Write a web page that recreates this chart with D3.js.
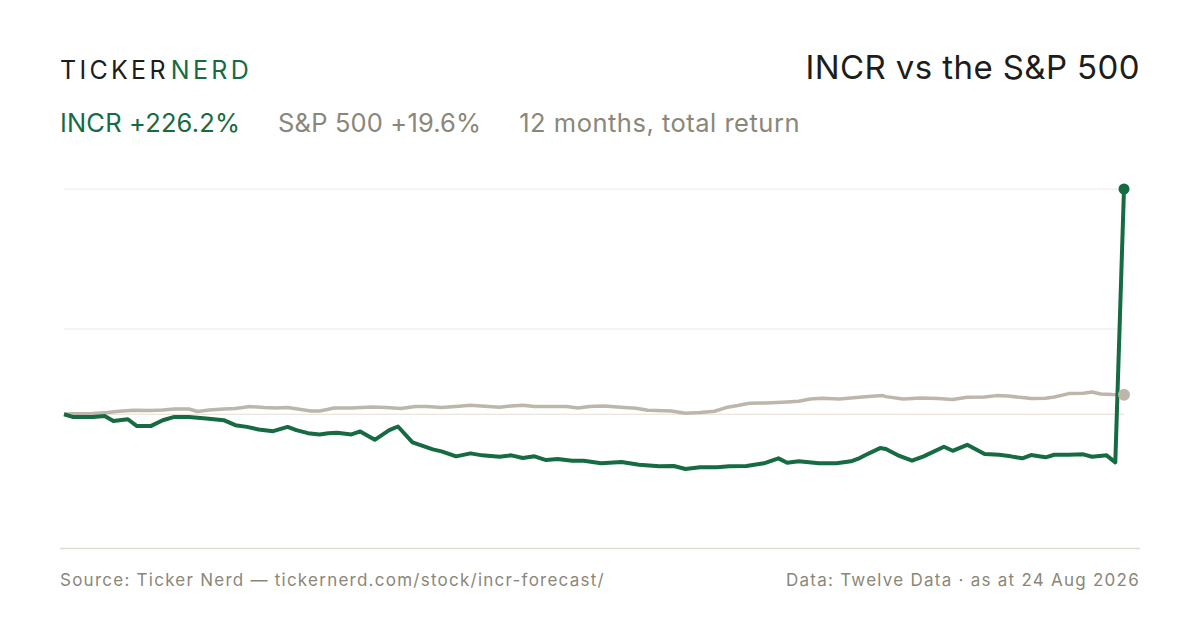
<!DOCTYPE html>
<html>
<head>
<meta charset="utf-8">
<script src="https://cdn.jsdelivr.net/npm/d3@7"></script>
<style>
    html, body { margin: 0; padding: 0; background: #ffffff; }
    svg { display: block; font-family: Inter, "Noto Sans", sans-serif; }
</style>
</head>
<body>
<svg id="chart" width="1200" height="630"></svg>
<script>
// Day offsets (from start of the 12 month window) and total return in %
const incrDays = [0, 3, 10, 14, 17, 22, 25, 30, 34, 38, 43, 49, 55, 59, 63, 67, 72, 77, 80, 84, 88, 91,
    94, 99, 102, 107, 112, 115, 120, 127, 130, 135, 140, 144, 150, 154, 158, 162, 166, 170, 175, 179, 182,
    185, 192, 198, 205, 210, 214, 219, 225, 229, 235, 241, 246, 249, 253, 260, 266, 271, 274, 276, 281, 283,
    287, 292, 296, 303, 306, 311, 317, 322, 326, 330, 333, 338, 341, 346, 351, 354, 359, 362, 365];
const incrReturn = [0, -2.7, -2.7, -1.7, -6.7, -5, -11.7, -11.7, -6, -2.7, -2.7, -4.3, -6, -11, -12.7, -15.3, -17, -12.7, -16, -19, -20.3, -19,
    -18.7, -20.3, -17.3, -25.7, -16, -12.3, -28.3, -35.3, -37.3, -42.3, -39.3, -41.3, -42.7, -41.3, -44, -42.3, -46, -45, -46.7, -46.7, -48,
    -49.3, -48, -50.7, -52.3, -52, -55, -53.3, -53.3, -52.3, -52, -49.3, -44.3, -48.7, -47.3, -49.3, -49.3, -47.3, -44, -41, -34, -35,
    -41, -46.7, -42.3, -32.7, -36.7, -30.7, -40, -40.7, -42.3, -44.3, -41, -43.3, -40.7, -40.7, -40.3, -42.7, -41.3, -48.3, 226.2];

const spxDays = [0, 3, 10, 15, 19, 24, 30, 34, 38, 43, 46, 50, 55, 59, 64, 69, 73, 77, 81, 85, 88, 91,
    93, 99, 106, 111, 116, 121, 125, 130, 136, 140, 145, 150, 154, 158, 162, 168, 173, 177, 181, 183,
    186, 193, 197, 201, 209, 214, 219, 224, 228, 232, 236, 242, 249, 253, 257, 261, 267, 274, 277, 282,
    283, 289, 295, 301, 306, 311, 317, 321, 325, 330, 333, 338, 341, 346, 351, 354, 357, 361, 365];
const spxReturn = [0, 0.5, 0.7, 1.7, 3, 4, 3.7, 4.3, 5.3, 5.3, 2.7, 4.3, 5.3, 5.7, 7.7, 6.7, 6.3, 6.7, 5, 3.3, 3.3, 5,
    6.3, 6.3, 7.3, 6.7, 5.7, 7.7, 7.7, 6.7, 8, 9, 8, 7, 8.3, 9, 7.7, 7.7, 7.7, 6.3, 7.7, 8,
    8.3, 6.7, 6, 4, 3.3, 1, 1.7, 3, 6.7, 8.7, 11, 11.3, 12.3, 13, 15.3, 16, 15.3, 17, 17.7, 18.7,
    17.7, 15.3, 16.3, 15.7, 14.7, 17, 17.3, 18.7, 18.3, 16.7, 15.7, 16, 17.3, 20.7, 21, 22.3, 20.3, 19.7, 19.6];

const windowDays = 365;
const incrLabel = "INCR +226.2%";
const spxLabel = "S&P 500 +19.6%";
const periodLabel = "12 months, total return";
const titleText = "INCR vs the S&P 500";
const sourceText = "Source: Ticker Nerd \u2014 tickernerd.com/stock/incr-forecast/";
const dataText = "Data: Twelve Data \u00b7 as at 24 Aug 2026";

const green = "#176b43",
    grey = "#bdb6ab",
    muted = "#8b8778";

const svg = d3.select("#chart");

const incr = incrDays.map((d, i) => ({day: d, value: incrReturn[i]}));
const spx = spxDays.map((d, i) => ({day: d, value: spxReturn[i]}));

const x = d3.scaleLinear()
    .domain([0, windowDays])
    .range([64, 1124]);

const yExtent = d3.extent(incrReturn.concat(spxReturn));
const y = d3.scaleLinear()
    .domain(yExtent)
    .range([469, 189]);

// Header
const logo = svg.append("text")
    .attr("x", 60)
    .attr("y", 79)
    .attr("font-size", 25)
    .attr("letter-spacing", 3.3)
    .attr("fill", "#1d1d1b");
logo.append("tspan").text("TICKER");
logo.append("tspan").attr("dx", 2).attr("fill", green).text("NERD");

svg.append("text")
    .attr("x", 1140)
    .attr("y", 79)
    .attr("text-anchor", "end")
    .attr("font-size", 33)
    .attr("letter-spacing", 0.4)
    .attr("fill", "#1d1d1b")
    .text(titleText);

const sub = svg.append("text")
    .attr("x", 60)
    .attr("y", 132)
    .attr("font-size", 25.5)
    .attr("letter-spacing", 0.15)
    .attr("fill", muted);
sub.append("tspan").attr("fill", green).text(incrLabel);
sub.append("tspan").attr("dx", 38).text(spxLabel);
sub.append("tspan").attr("dx", 38).attr("letter-spacing", 0.5).text(periodLabel);

// Grid
const gridValues = [yExtent[1], (yExtent[0] + yExtent[1]) / 2];
svg.append("g")
    .selectAll("line")
    .data(gridValues)
    .join("line")
    .attr("x1", x(0))
    .attr("x2", x(windowDays))
    .attr("y1", d => y(d))
    .attr("y2", d => y(d))
    .attr("stroke", "#ebe8e1")
    .attr("stroke-width", 1);

svg.append("line")
    .attr("x1", x(0))
    .attr("x2", x(windowDays))
    .attr("y1", y(0))
    .attr("y2", y(0))
    .attr("stroke", "#e4ddd3")
    .attr("stroke-width", 1.2);

// Lines
const line = d3.line()
    .x(d => x(d.day))
    .y(d => y(d.value));

svg.append("path")
    .datum(spx)
    .attr("d", line)
    .attr("fill", "none")
    .attr("stroke", grey)
    .attr("stroke-width", 3.5)
    .attr("stroke-linejoin", "round");

svg.append("path")
    .datum(incr)
    .attr("d", line)
    .attr("fill", "none")
    .attr("stroke", green)
    .attr("stroke-width", 4)
    .attr("stroke-linejoin", "round");

const lastSpx = spx[spx.length - 1],
    lastIncr = incr[incr.length - 1];
svg.append("circle")
    .attr("cx", x(lastSpx.day))
    .attr("cy", y(lastSpx.value))
    .attr("r", 6)
    .attr("fill", grey);
svg.append("circle")
    .attr("cx", x(lastIncr.day))
    .attr("cy", y(lastIncr.value))
    .attr("r", 5.5)
    .attr("fill", green);

// Footer
svg.append("line")
    .attr("x1", 60)
    .attr("x2", 1140)
    .attr("y1", 548.5)
    .attr("y2", 548.5)
    .attr("stroke", "#e0dcd2")
    .attr("stroke-width", 1.3);

svg.append("text")
    .attr("x", 60)
    .attr("y", 586)
    .attr("font-size", 17)
    .attr("letter-spacing", 1.25)
    .attr("fill", muted)
    .text(sourceText);

svg.append("text")
    .attr("x", 1140)
    .attr("y", 586)
    .attr("text-anchor", "end")
    .attr("font-size", 17)
    .attr("letter-spacing", 1.25)
    .attr("fill", muted)
    .text(dataText);
</script>
</body>
</html>
